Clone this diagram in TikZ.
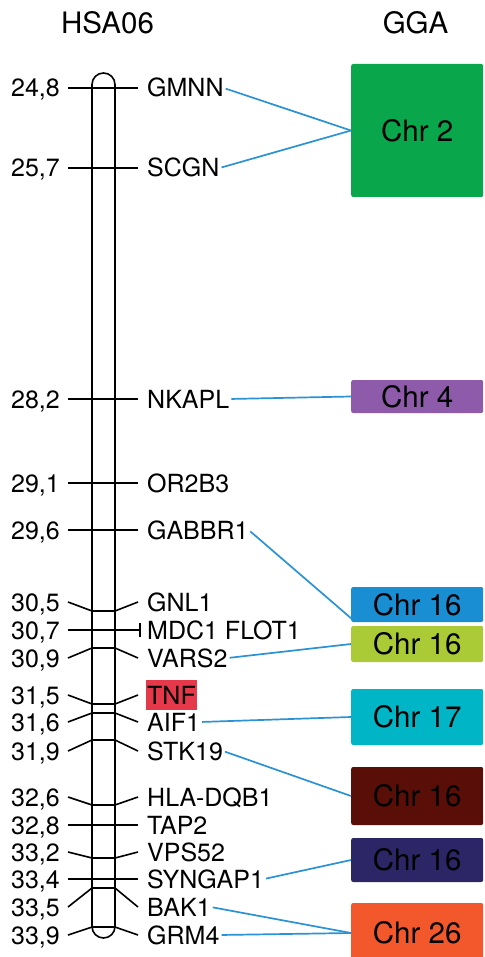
\documentclass[tikz,border=0pt]{standalone}
\usepackage{fontspec}
\setmainfont{TeX Gyre Heros}
\definecolor{linkblue}{HTML}{2B93D3}
\definecolor{cgreen}{HTML}{0AA64C}
\definecolor{cpurple}{HTML}{8D5BA9}
\definecolor{cblue}{HTML}{1A8ED3}
\definecolor{clime}{HTML}{AACB36}
\definecolor{ccyan}{HTML}{00B5C5}
\definecolor{cdred}{HTML}{5A0E08}
\definecolor{cnavy}{HTML}{2C2666}
\definecolor{corange}{HTML}{F2582B}
\definecolor{tnfred}{HTML}{E5394B}
\newcommand\lblfont{\fontsize{25}{30}\selectfont}
\newcommand\bigfont{\fontsize{29.5}{34}\selectfont}
\tikzset{
  num/.style={font=\lblfont, anchor=east, inner sep=0pt, text height=18pt, text depth=0pt},
  gene/.style={font=\lblfont, anchor=west, inner sep=0pt, text height=18pt, text depth=0pt},
  tick/.style={line width=1.6pt, black},
  link/.style={line width=1.7pt, linkblue, shorten <=2pt},
  chrbox/.style={font=\bigfont, text=black, minimum width=132pt, inner sep=0pt, rounded corners=2pt, anchor=west},
  head/.style={font=\bigfont, inner sep=0pt},
}
\begin{document}
\begin{tikzpicture}[x=1pt,y=-1pt]
\useasboundingbox (0,0) rectangle (484,957);
\clip (0,0) rectangle (484,957);
\fill[white] (0,0) rectangle (484,957);

% headers
\node[head] (hsa) at (107.5,23) {HSA06};
\node[head] (gga) at (415.5,23) {GGA};

% chromosome
\node[draw, line width=1.6pt, rounded corners=11.5pt, minimum width=23pt, minimum height=865pt, inner sep=0pt] (chrom) at (103.5,505.5) {};

% number labels
\node[num] (n248) at (60,88) {24,8};
\node[num] (n257) at (60,168) {25,7};
\node[num] (n282) at (60,399) {28,2};
\node[num] (n291) at (60,483) {29,1};
\node[num] (n296) at (60,530) {29,6};
\node[num] (n305) at (60,602) {30,5};
\node[num] (n307) at (60,630) {30,7};
\node[num] (n309) at (60,658) {30,9};
\node[num] (n315) at (60,695) {31,5};
\node[num] (n316) at (60,722) {31,6};
\node[num] (n319) at (60,751) {31,9};
\node[num] (n326) at (60,797) {32,6};
\node[num] (n328) at (60,825) {32,8};
\node[num] (n332) at (60,852) {33,2};
\node[num] (n334) at (60,879) {33,4};
\node[num] (n335) at (60,907) {33,5};
\node[num] (n339) at (60,935) {33,9};

% gene labels
\node[gene] (gmnn) at (147,88) {GMNN};
\node[gene] (scgn) at (147,168) {SCGN};
\node[gene] (nkapl) at (147,399) {NKAPL};
\node[gene] (or2b3) at (147,483) {OR2B3};
\node[gene] (gabbr1) at (147,530) {GABBR1};
\node[gene] (gnl1) at (147,602) {GNL1};
\node[gene] (mdc1) at (147,630) {MDC1 FLOT1};
\node[gene] (vars2) at (147,658) {VARS2};
\node[gene, fill=tnfred, inner xsep=1pt, inner ysep=6pt] (tnf) at (146,695) {TNF};
\node[gene] (aif1) at (147,722) {AIF1};
\node[gene] (stk19) at (147,751) {STK19};
\node[gene] (hla) at (147,797) {HLA-DQB1};
\node[gene] (tap2) at (147,825) {TAP2};
\node[gene] (vps52) at (147,852) {VPS52};
\node[gene] (syngap1) at (147,879) {SYNGAP1};
\node[gene] (bak1) at (147,907) {BAK1};
\node[gene] (grm4) at (147,935) {GRM4};

% ticks
\draw[tick] ([xshift=8pt]n248.east) -- ([xshift=-9pt]gmnn.west);
\draw[tick] ([xshift=8pt]n257.east) -- ([xshift=-9pt]scgn.west);
\draw[tick] ([xshift=8pt]n282.east) -- ([xshift=-9pt]nkapl.west);
\draw[tick] ([xshift=8pt]n291.east) -- ([xshift=-9pt]or2b3.west);
\draw[tick] ([xshift=8pt]n296.east) -- ([xshift=-9pt]gabbr1.west);
\draw[tick] ([xshift=8pt]n305.east) -- (92,611) -- (115,611) -- ([xshift=-9pt]gnl1.west);
\draw[tick] ([xshift=8pt]n307.east) -- ([xshift=-7pt]mdc1.west);
\draw[tick] ([xshift=-7pt,yshift=7pt]mdc1.west) -- ([xshift=-7pt,yshift=-7pt]mdc1.west);
\draw[tick] ([xshift=8pt]n309.east) -- (92,648) -- (115,648) -- ([xshift=-9pt]vars2.west);
\draw[tick] ([xshift=8pt]n315.east) -- (92,704) -- (115,704) -- ([xshift=-8pt]tnf.west);
\draw[tick] ([xshift=8pt]n316.east) -- (92,713) -- (115,713) -- ([xshift=-9pt]aif1.west);
\draw[tick] ([xshift=8pt]n319.east) -- (92,740) -- (115,740) -- ([xshift=-9pt]stk19.west);
\draw[tick] ([xshift=8pt]n326.east) -- (92,805) -- (115,805) -- ([xshift=-9pt]hla.west);
\draw[tick] ([xshift=8pt]n328.east) -- ([xshift=-9pt]tap2.west);
\draw[tick] ([xshift=8pt]n332.east) -- (92,858) -- (115,858) -- ([xshift=-9pt]vps52.west);
\draw[tick] ([xshift=8pt]n334.east) -- ([xshift=-9pt]syngap1.west);
\draw[tick] ([xshift=8pt]n335.east) -- (92,888) -- (115,888) -- ([xshift=-9pt]bak1.west);
\draw[tick] ([xshift=8pt]n339.east) -- (92,927) -- (115,927) -- ([xshift=-9pt]grm4.west);

% GGA chromosome boxes
\node[chrbox, fill=cgreen, minimum height=133pt] (c2) at (351,130.5) {Chr 2};
\node[chrbox, fill=cpurple, minimum height=33pt] (c4) at (351,396.5) {Chr 4};
\node[chrbox, fill=cblue, minimum height=35pt] (c16a) at (351,604.5) {Chr 16};
\node[chrbox, fill=clime, minimum height=36pt] (c16b) at (351,644) {Chr 16};
\node[chrbox, fill=ccyan, minimum height=56pt] (c17) at (351,717) {Chr 17};
\node[chrbox, fill=cdred, minimum height=58pt] (c16c) at (351,796) {Chr 16};
\node[chrbox, fill=cnavy, minimum height=44pt] (c16d) at (351,860) {Chr 16};
\node[chrbox, fill=corange, minimum height=60pt] (c26) at (351,933) {Chr 26};

% links
\draw[link] (gmnn.east) -- (c2.west);
\draw[link] (scgn.east) -- (c2.west);
\draw[link] (nkapl.east) -- (c4.west);
\draw[link] (gabbr1.east) -- ([yshift=4pt]c16a.south west);
\draw[link] (vars2.east) -- (c16b.west);
\draw[link] (aif1.east) -- (c17.west);
\draw[link] (stk19.east) -- (c16c.west);
\draw[link] (syngap1.east) -- (c16d.west);
\draw[link] (bak1.east) -- (c26.west);
\draw[link] (grm4.east) -- (c26.west);
\end{tikzpicture}
\end{document}
